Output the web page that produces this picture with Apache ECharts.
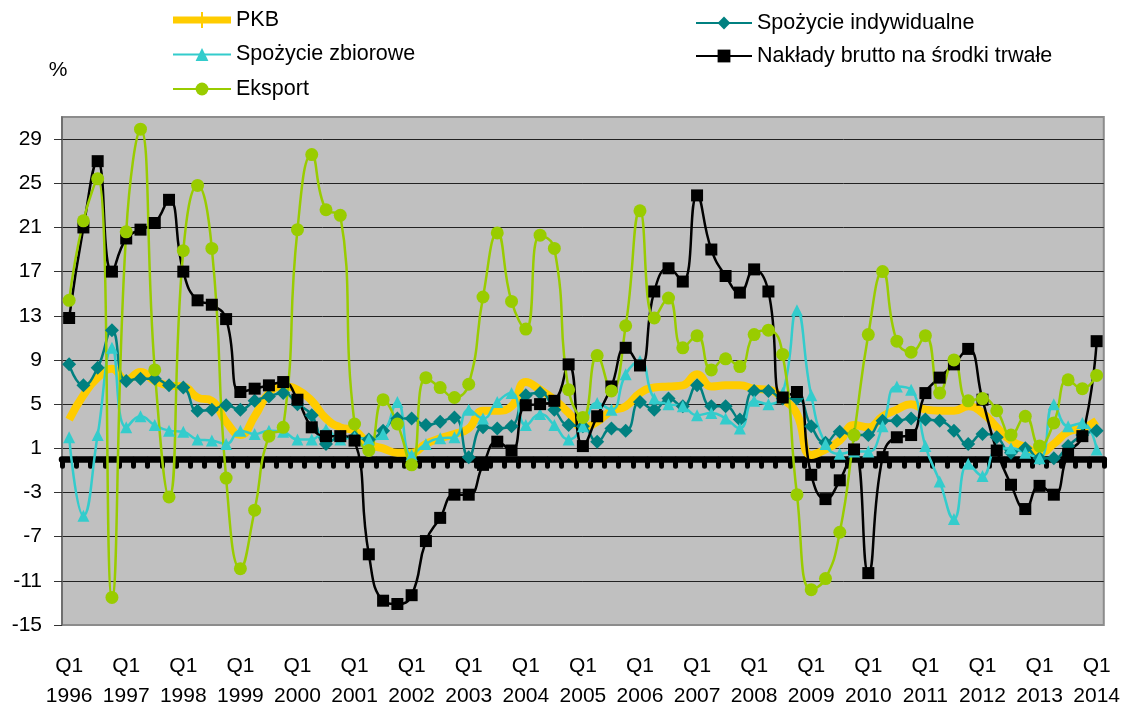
<!DOCTYPE html>
<html>
<head>
<meta charset="utf-8">
<script src="https://cdn.jsdelivr.net/npm/echarts@6/dist/echarts.min.js"></script>
<style>html,body{margin:0;padding:0;background:#fff}#c{width:1123px;height:711px}</style>
</head>
<body>
<div id="c"></div>
<script>
const categories = [
 'Q1 1996','Q2 1996','Q3 1996','Q4 1996','Q1 1997','Q2 1997','Q3 1997','Q4 1997',
 'Q1 1998','Q2 1998','Q3 1998','Q4 1998','Q1 1999','Q2 1999','Q3 1999','Q4 1999',
 'Q1 2000','Q2 2000','Q3 2000','Q4 2000','Q1 2001','Q2 2001','Q3 2001','Q4 2001',
 'Q1 2002','Q2 2002','Q3 2002','Q4 2002','Q1 2003','Q2 2003','Q3 2003','Q4 2003',
 'Q1 2004','Q2 2004','Q3 2004','Q4 2004','Q1 2005','Q2 2005','Q3 2005','Q4 2005',
 'Q1 2006','Q2 2006','Q3 2006','Q4 2006','Q1 2007','Q2 2007','Q3 2007','Q4 2007',
 'Q1 2008','Q2 2008','Q3 2008','Q4 2008','Q1 2009','Q2 2009','Q3 2009','Q4 2009',
 'Q1 2010','Q2 2010','Q3 2010','Q4 2010','Q1 2011','Q2 2011','Q3 2011','Q4 2011',
 'Q1 2012','Q2 2012','Q3 2012','Q4 2012','Q1 2013','Q2 2013','Q3 2013','Q4 2013',
 'Q1 2014'
];
const pkb = [3.6,5.8,7.4,8.2, 7.2,7.9,7.1,6.7, 6.6,5.6,5.3,3.4, 2.2,3.9,6.0,6.6,
 6.3,5.3,3.7,2.9, 2.6,1.4,1.0,0.6, 0.6,1.4,1.9,2.3, 2.8,4.4,4.4,4.8,
 7.0,6.3,5.4,4.2, 2.9,3.4,4.4,4.8, 6.0,6.5,6.6,6.7, 7.7,6.6,6.7,6.7,
 6.4,6.3,5.5,4.1, 0.4,0.9,1.7,3.1, 2.9,3.9,4.5,5.0, 4.5,4.4,4.4,4.8,
 4.2,2.9,1.7,1.1, 0.6,1.4,2.5,2.8, 3.5];
const spozycieIndywidualne = [8.6,6.7,8.3,11.7, 7.1,7.3,7.3,6.7, 6.5,4.4,4.5,4.9, 4.5,5.3,5.7,6.0,
 5.0,4.0,1.4,2.0, 2.0,1.8,2.6,3.7, 3.7,3.1,3.4,3.8, 0.2,2.9,2.8,3.0,
 5.8,6.0,4.5,3.1, 3.0,1.6,2.8,2.6, 5.2,4.5,5.5,4.8, 6.7,4.8,4.8,3.6,
 6.2,6.2,5.5,5.5, 3.0,1.5,2.5,2.2, 2.2,3.5,3.5,3.7, 3.6,3.5,2.6,1.4,
 2.3,2.0,0.6,1.0, 0.1,0.1,1.2,2.2, 2.6];
const spozycieZbiorowe = [2.0,-5.1,2.2,10.1, 2.9,3.9,3.1,2.6, 2.5,1.8,1.7,1.4, 2.6,2.3,2.6,2.5,
 1.8,1.8,2.7,1.8, 2.0,1.8,2.3,5.2, 0.4,1.4,1.9,2.0, 4.5,3.7,5.2,6.0,
 3.1,4.1,3.1,1.8, 3.0,5.1,4.5,7.7, 8.9,5.5,5.0,4.8, 4.0,4.2,3.7,2.8,
 5.3,5.0,6.0,13.5, 5.8,1.4,0.5,0.7, 0.7,3.0,6.6,6.3, 1.2,-2.0,-5.4,-0.4,
 -1.5,0.9,1.0,0.6, 0.1,5.0,3.0,3.3, 0.9];
const naklady = [12.8,21.0,27.0,17.0, 20.0,20.8,21.4,23.5, 17.0,14.4,14.0,12.7, 6.1,6.4,6.7,7.0,
 5.4,2.9,2.1,2.1, 1.7,-8.6,-12.8,-13.1, -12.3,-7.4,-5.3,-3.2, -3.2,-0.5,1.6,0.8,
 4.9,5.0,5.3,8.6, 1.2,3.9,6.6,10.1, 8.5,15.2,17.3,16.1, 23.9,19.0,16.6,15.1,
 17.2,15.2,5.6,6.1, -1.4,-3.6,-1.9,0.9, -10.3,0.2,2.0,2.2, 6.0,7.4,8.6,10.0,
 5.4,0.8,-2.3,-4.5, -2.4,-3.2,0.5,2.1, 10.7];
const eksport = [14.4,21.6,25.4,-12.5, 20.6,29.9,8.1,-3.4, 18.9,24.8,19.1,-1.7, -9.9,-4.6,2.1,2.9,
 20.8,27.6,22.6,22.1, 3.2,0.8,5.4,3.2, -0.5,7.4,6.5,5.6, 6.8,14.7,20.5,14.3,
 11.8,20.3,19.1,6.3, 3.8,9.4,6.2,12.1, 22.5,12.8,14.6,10.1, 11.2,8.1,9.1,8.4,
 11.3,11.7,9.5,-3.2, -11.8,-10.8,-6.6,2.2, 11.3,17.0,10.7,9.7, 11.2,6.0,9.0,5.3,
 5.5,4.4,2.2,3.9, 1.2,3.3,7.2,6.4, 7.6];
const yTicks = [-15,-11,-7,-3,1,5,9,13,17,21,25,29];

const FONT = "'Liberation Sans',Arial,sans-serif";
const chart = echarts.init(document.getElementById('c'), null, {renderer: 'canvas'});

function lineSeries(name, data, color, symbol, size) {
  return {
    name: name, type: 'line', data: data, smooth: true,
    symbol: symbol, symbolSize: size, showAllSymbol: true,
    lineStyle: {color: color, width: 2.5},
    itemStyle: {color: color},
    emphasis: {disabled: true}
  };
}

const option = {
  animation: false,
  backgroundColor: '#ffffff',
  textStyle: {fontFamily: FONT},
  grid: {left: 62, right: 19, top: 117, bottom: 84, show: true,
         backgroundColor: '#c0c0c0', borderColor: '#8c8c8c', borderWidth: 2},
  legend: [
    {orient: 'vertical', left: 167, top: 4, itemWidth: 58, itemHeight: 16, itemGap: 12.5,
     textStyle: {fontFamily: FONT, fontSize: 21.5, color: '#000'},
     data: [{name: 'PKB', icon: 'path://M0,4.5L58,4.5L58,11.5L0,11.5Z M28,0L30,0L30,16L28,16Z'},
            'Spożycie zbiorowe', 'Eksport']},
    {orient: 'vertical', left: 690, top: 7, itemWidth: 56, itemHeight: 16, itemGap: 11,
     textStyle: {fontFamily: FONT, fontSize: 21.5, color: '#000'},
     data: ['Spożycie indywidualne', 'Nakłady brutto na środki trwałe']}
  ],
  xAxis: [
    {type: 'category', data: categories, boundaryGap: true, position: 'bottom',
     axisLine: {show: true, onZero: true, lineStyle: {color: '#000', width: 6.5, cap: 'round'}},
     axisTick: {show: true, interval: 0, length: 7, lineStyle: {color: '#000', width: 5, cap: 'round'}},
     axisLabel: {show: false}, splitLine: {show: false}},
    {type: 'category', data: categories, boundaryGap: true, position: 'bottom',
     axisLine: {show: false, onZero: false}, axisTick: {show: false}, splitLine: {show: false},
     axisLabel: {interval: 3, margin: 26, fontSize: 21, lineHeight: 30, color: '#000', fontFamily: FONT,
                 formatter: function (v) { return v.replace(' ', '\n'); }}}
  ],
  yAxis: {
    type: 'value', min: -15, max: 31, interval: 4,
    name: '%', nameLocation: 'end', nameGap: 36,
    nameTextStyle: {fontFamily: FONT, fontSize: 21, color: '#000', padding: [0, 8, 0, 0]},
    axisLine: {show: true, lineStyle: {color: '#666', width: 1.5}},
    axisTick: {show: true, length: 8, customValues: yTicks, lineStyle: {color: '#333'}},
    axisLabel: {customValues: yTicks, margin: 20, fontSize: 21, color: '#000', fontFamily: FONT},
    splitLine: {show: true, showMinLine: false, lineStyle: {color: '#222', width: 1}}
  },
  series: [
    {name: 'PKB', type: 'line', data: pkb, smooth: true, symbol: 'none',
     lineStyle: {color: '#FFCC00', width: 8}, itemStyle: {color: '#FFCC00'}, emphasis: {disabled: true}},
    lineSeries('Spożycie indywidualne', spozycieIndywidualne, '#008080', 'diamond', 14),
    lineSeries('Spożycie zbiorowe', spozycieZbiorowe, '#33CCCC', 'triangle', 12),
    lineSeries('Nakłady brutto na środki trwałe', naklady, '#000000', 'rect', 12),
    lineSeries('Eksport', eksport, '#99CC00', 'circle', 13)
  ]
};
chart.setOption(option);
</script>
</body>
</html>
